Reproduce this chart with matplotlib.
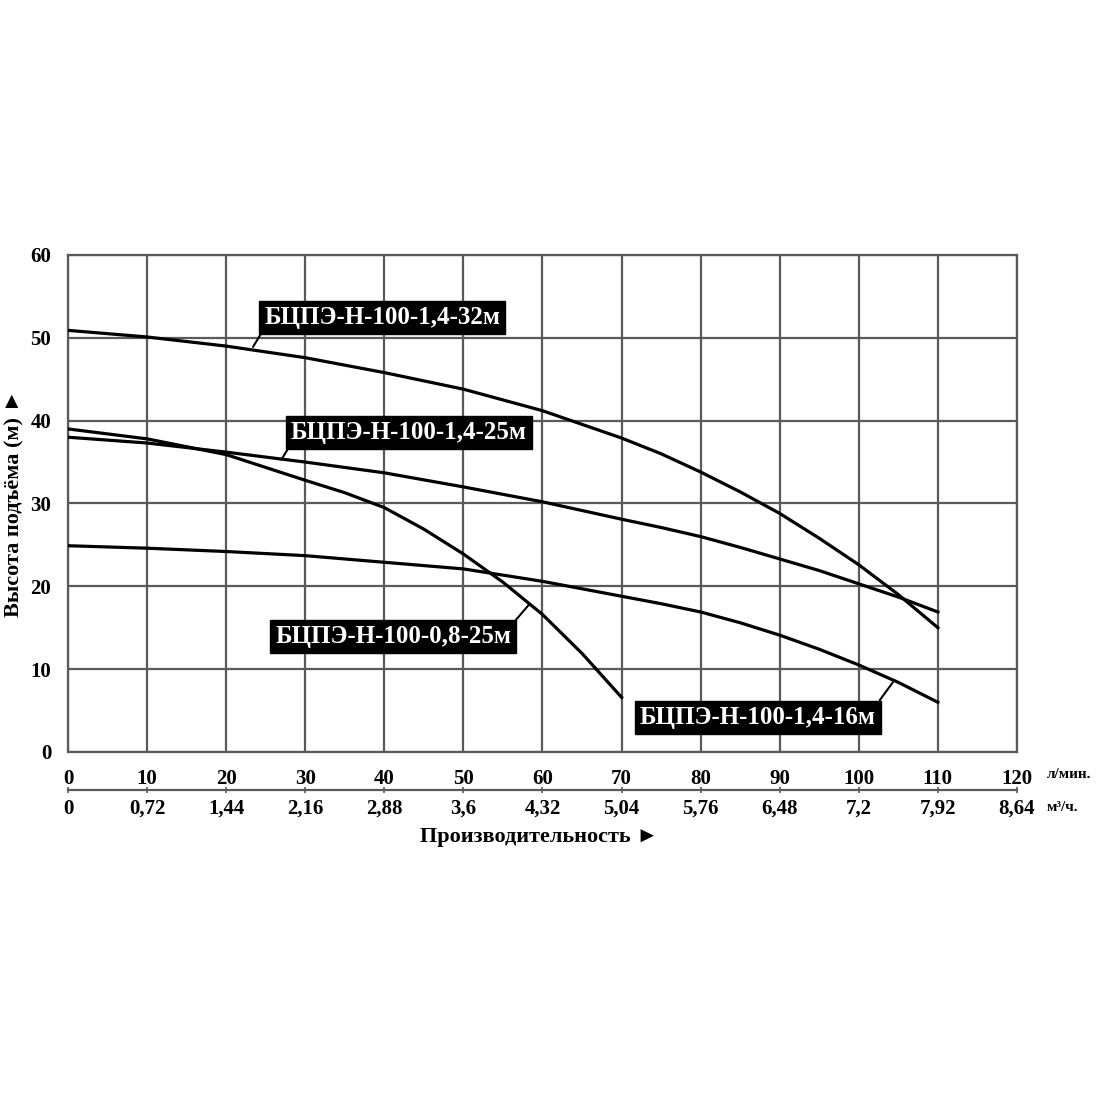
import matplotlib.pyplot as plt
import numpy as np

plt.rcParams['font.family'] = ['Liberation Serif', 'DejaVu Serif']
plt.rcParams['font.weight'] = 'bold'

# flow, l/min
x_long = [0, 10, 20, 30, 40, 50, 60, 70, 75, 80, 85, 90, 95, 100, 105, 110]
h_32 = [50.9, 50.1, 49.0, 47.6, 45.8, 43.8, 41.2, 37.9, 36.0, 33.8, 31.4, 28.8, 25.8, 22.6, 19.0, 15.0]
h_25 = [38.0, 37.3, 36.2, 35.0, 33.7, 32.0, 30.2, 28.1, 27.1, 26.0, 24.7, 23.3, 21.9, 20.3, 18.7, 16.9]
h_16 = [24.9, 24.6, 24.2, 23.7, 22.9, 22.1, 20.6, 18.8, 17.9, 16.9, 15.6, 14.1, 12.4, 10.5, 8.4, 6.0]

x_short = [0, 10, 20, 30, 35, 40, 45, 50, 55, 60, 65, 70]
h_08 = [39.0, 37.8, 35.9, 32.8, 31.3, 29.5, 26.9, 23.9, 20.5, 16.6, 11.9, 6.6]

lpm_ticks = [0, 10, 20, 30, 40, 50, 60, 70, 80, 90, 100, 110, 120]
m3h_labels = ['0', '0,72', '1,44', '2,16', '2,88', '3,6', '4,32', '5,04',
              '5,76', '6,48', '7,2', '7,92', '8,64']
head_ticks = [0, 10, 20, 30, 40, 50, 60]

fig = plt.figure(figsize=(11, 11), dpi=100)
ax = fig.add_axes([0.0618, 0.3164, 0.8627, 0.4518])

grid_c = '#5a5a5a'
for xs, hs in [(x_long, h_32), (x_long, h_25), (x_long, h_16), (x_short, h_08)]:
    ax.plot(xs, hs, color='black', lw=2.3, zorder=3)

ax.set_xlim(0, 120)
ax.set_ylim(0, 60)
ax.set_xticks(lpm_ticks)
ax.set_yticks(head_ticks)
ax.grid(True, color=grid_c, lw=1.6)
for s in ax.spines.values():
    s.set_color(grid_c)
    s.set_linewidth(1.6)
ax.tick_params(length=0, labelsize=15)
ax.tick_params(axis='x', pad=12)
ax.tick_params(axis='y', pad=12)

# second scale, m3/h
sec = ax.secondary_xaxis(-0.0765, functions=(lambda v: v, lambda v: v))
sec.set_xticks(lpm_ticks)
sec.set_xticklabels(m3h_labels)
sec.tick_params(direction='inout', length=5, width=1.2, color=grid_c, labelsize=15, pad=4)
sec.spines['bottom'].set_color(grid_c)
sec.spines['bottom'].set_linewidth(1.6)

ax.text(1.031, -0.046, 'л/мин.', transform=ax.transAxes, fontsize=11, ha='left', va='center')
ax.text(1.031, -0.112, 'м³/ч.', transform=ax.transAxes, fontsize=11, ha='left', va='center')
ax.text(0.497, -0.172, 'Производительность ►', transform=ax.transAxes, fontsize=16,
        ha='center', va='center', family=['Liberation Serif', 'DejaVu Sans'])
ax.text(-0.056, 0.5, 'Высота подъёма (м) ►', transform=ax.transAxes, fontsize=16,
        ha='center', va='center', rotation=90, family=['Liberation Serif', 'DejaVu Sans'])

box = dict(boxstyle='square,pad=0.2', fc='black', ec='black')
arrow = dict(arrowstyle='-', color='black', lw=1.5, shrinkA=0, shrinkB=0)
labels = [
    ('БЦПЭ-Н-100-1,4-32м', (23.4, 48.9), (24.8, 52.5), (0, 0)),
    ('БЦПЭ-Н-100-1,4-25м', (27.0, 35.3), (28.2, 38.6), (0, 0)),
    ('БЦПЭ-Н-100-0,8-25м', (58.4, 17.9), (26.2, 13.9), (1, 1)),
    ('БЦПЭ-Н-100-1,4-16м', (104.3, 8.4), (72.3, 4.2), (1, 1)),
]
for txt, xy, xyt, rp in labels:
    a = dict(arrow)
    a['relpos'] = rp
    ax.annotate(txt, xy=xy, xytext=xyt, fontsize=18, color='white',
                ha='left', va='center', bbox=box, arrowprops=a, zorder=5)

fig.savefig('out.png', dpi=100, facecolor='white')
